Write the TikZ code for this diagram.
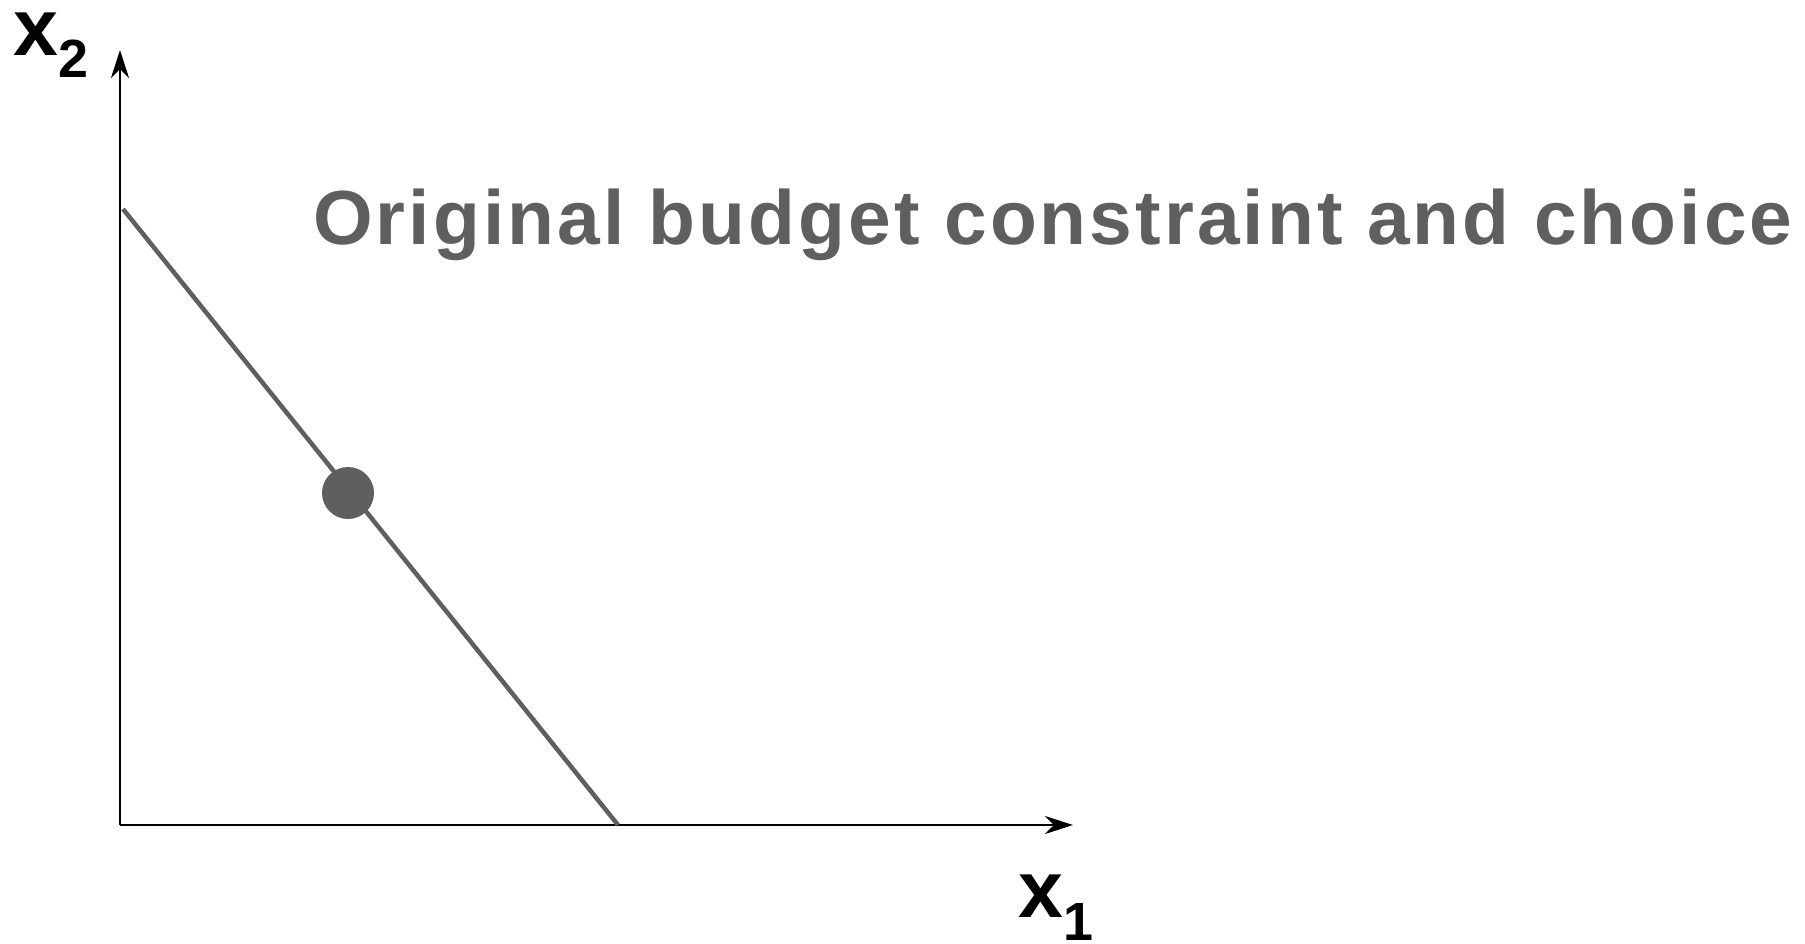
\documentclass[tikz,border=0pt]{standalone}
\usepackage{fontspec}
\setmainfont{Liberation Sans}
\newfontfamily\titlefont[LetterSpace=4]{Liberation Sans}
\usetikzlibrary{arrows.meta}
\definecolor{lgray}{HTML}{5F5F5F}
\tikzset{
  axis/.style={line width=2.6bp, black, -{Stealth[length=28bp,width=18bp,inset=9bp]}},
  budget/.style={line width=4.5bp, lgray},
  choice/.style={circle, fill=lgray, inner sep=0pt, minimum size=52bp},
  axlabel/.style={inner sep=0pt, anchor=base west, font=\fontsize{81}{81}\selectfont\bfseries},
  title/.style={inner sep=0pt, anchor=base west, text=lgray, font=\titlefont\fontsize{77}{77}\selectfont\bfseries}
}
\begin{document}
\begin{tikzpicture}[x=1bp,y=-1bp]
\useasboundingbox (0,0) rectangle (1805,943);
\coordinate (O) at (120,825);
\coordinate (ytop) at (120,50);
\coordinate (xend) at (1073,825);
\coordinate (A) at (123,209);
\coordinate (B) at (618,825);
\draw[axis] (O) -- (ytop);
\draw[axis] (O) -- (xend);
\draw[budget] (A) -- (B);
\node[choice] (C) at (348,493) {};
\node[axlabel] (x2) at (13,55) {x\raisebox{-22bp}{\fontsize{54}{54}\selectfont 2}};
\node[axlabel] (x1) at (1018,917) {x\raisebox{-23bp}{\fontsize{54}{54}\selectfont 1}};
\node[title] (t) at (313,244) {Original budget constraint and choice};
\end{tikzpicture}
\end{document}
